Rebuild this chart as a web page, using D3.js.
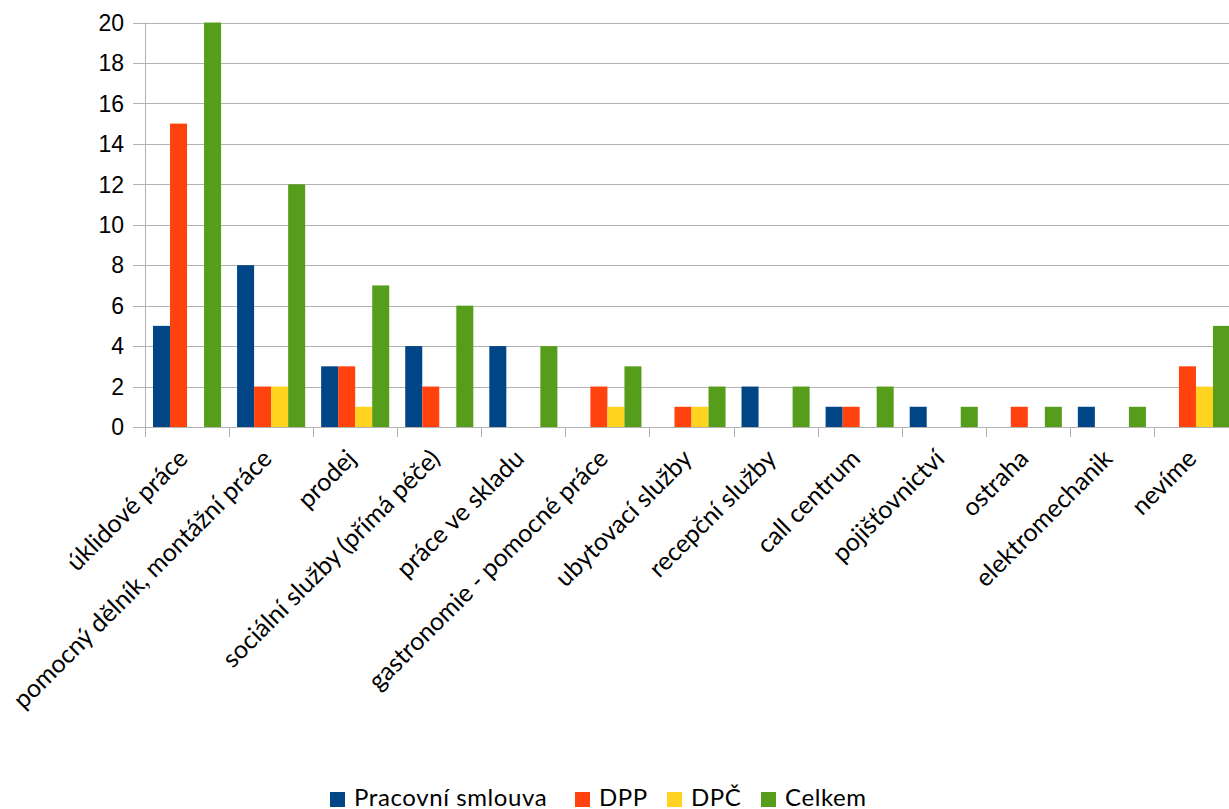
<!DOCTYPE html>
<html><head><meta charset="utf-8">
<script src="https://cdn.jsdelivr.net/npm/d3@7"></script>
<style>body{margin:0;background:#fff}svg{display:block}</style>
</head><body>
<svg id="chart" width="1229" height="809"></svg>
<script>
const categories = ["úklidové práce","pomocný dělník, montážní práce","prodej","sociální služby (přímá péče)","práce ve skladu","gastronomie - pomocné práce","ubytovací služby","recepční služby","call centrum","pojišťovnictví","ostraha","elektromechanik","nevíme"];
const seriesNames = ["Pracovní smlouva","DPP","DPČ","Celkem"];
const pracovniSmlouva = [5,8,3,4,4,0,0,2,1,1,0,1,0];
const dpp = [15,2,3,2,0,2,1,0,1,0,1,0,3];
const dpc = [0,2,1,0,0,1,1,0,0,0,0,0,2];
const celkem = [20,12,7,6,4,3,2,2,2,1,1,1,5];
const yTicks = [0,2,4,6,8,10,12,14,16,18,20];
const colors = ["#004586","#ff420e","#ffd320","#579d1c"];

const seriesValues = [pracovniSmlouva, dpp, dpc, celkem];
const svg = d3.select("#chart");
const plotLeft = 145, plotRight = 1238, plotTop = 22.5, plotBottom = 427;

const x = d3.scaleBand().domain(categories).range([plotLeft, plotRight]).paddingInner(0).paddingOuter(0);
const xs = d3.scaleBand().domain(seriesNames).range([0, x.bandwidth()]).paddingInner(0).paddingOuter(0.47);
const y = d3.scaleLinear().domain([0, 20]).range([plotBottom, plotTop]);

// horizontal gridlines
svg.append("g").selectAll("line").data(yTicks).join("line")
  .attr("x1", 133).attr("x2", plotRight)
  .attr("y1", d => Math.round(y(d)) + 0.5).attr("y2", d => Math.round(y(d)) + 0.5)
  .attr("stroke", "#b3b3b3").attr("stroke-width", 1);

// y axis line
svg.append("line").attr("x1", plotLeft + 0.5).attr("x2", plotLeft + 0.5)
  .attr("y1", plotTop).attr("y2", plotBottom + 10).attr("stroke", "#b3b3b3");

// category ticks
svg.append("g").selectAll("line").data(categories.slice(1)).join("line")
  .attr("x1", d => Math.round(x(d)) + 0.5).attr("x2", d => Math.round(x(d)) + 0.5)
  .attr("y1", plotBottom).attr("y2", plotBottom + 10).attr("stroke", "#b3b3b3");

// y tick labels
svg.append("g").selectAll("text").data(yTicks).join("text")
  .attr("x", 124).attr("y", d => y(d)).attr("dy", "0.36em")
  .attr("text-anchor", "end")
  .attr("font-family", "Liberation Sans, Arial, sans-serif").attr("font-size", 23)
  .attr("fill", "#000").text(d => d);

// bars
const groups = svg.append("g").selectAll("g").data(seriesNames).join("g")
  .attr("fill", (d, i) => colors[i]);
groups.selectAll("rect").data((s, si) => categories.map((c, ci) => ({c, v: seriesValues[si][ci], s})))
  .join("rect")
  .attr("x", d => x(d.c) + xs(d.s))
  .attr("width", xs.bandwidth())
  .attr("y", d => y(d.v))
  .attr("height", d => y(0) - y(d.v));

// category labels, rotated
svg.append("g").selectAll("text").data(categories).join("text")
  .attr("transform", d => `translate(${x(d) + x.bandwidth() / 2 - 4},${plotBottom + 27}) rotate(-45)`)
  .attr("text-anchor", "end").attr("dy", "0.35em")
  .attr("font-family", "Lato, sans-serif").attr("font-size", 25)
  .attr("fill", "#000").text(d => d);

// legend
const legendItems = [
  {name: seriesNames[0], x: 330},
  {name: seriesNames[1], x: 575},
  {name: seriesNames[2], x: 667},
  {name: seriesNames[3], x: 761}
];
const lg = svg.append("g").selectAll("g").data(legendItems).join("g")
  .attr("transform", d => `translate(${d.x},0)`);
lg.append("rect").attr("x", 0).attr("y", 792).attr("width", 15).attr("height", 15)
  .attr("fill", (d, i) => colors[i]);
lg.append("text").attr("x", 24).attr("y", 806)
  .attr("font-family", "Lato, sans-serif").attr("font-size", 24).attr("letter-spacing", 0.6)
  .attr("fill", "#000").text(d => d.name);
</script>
</body></html>
